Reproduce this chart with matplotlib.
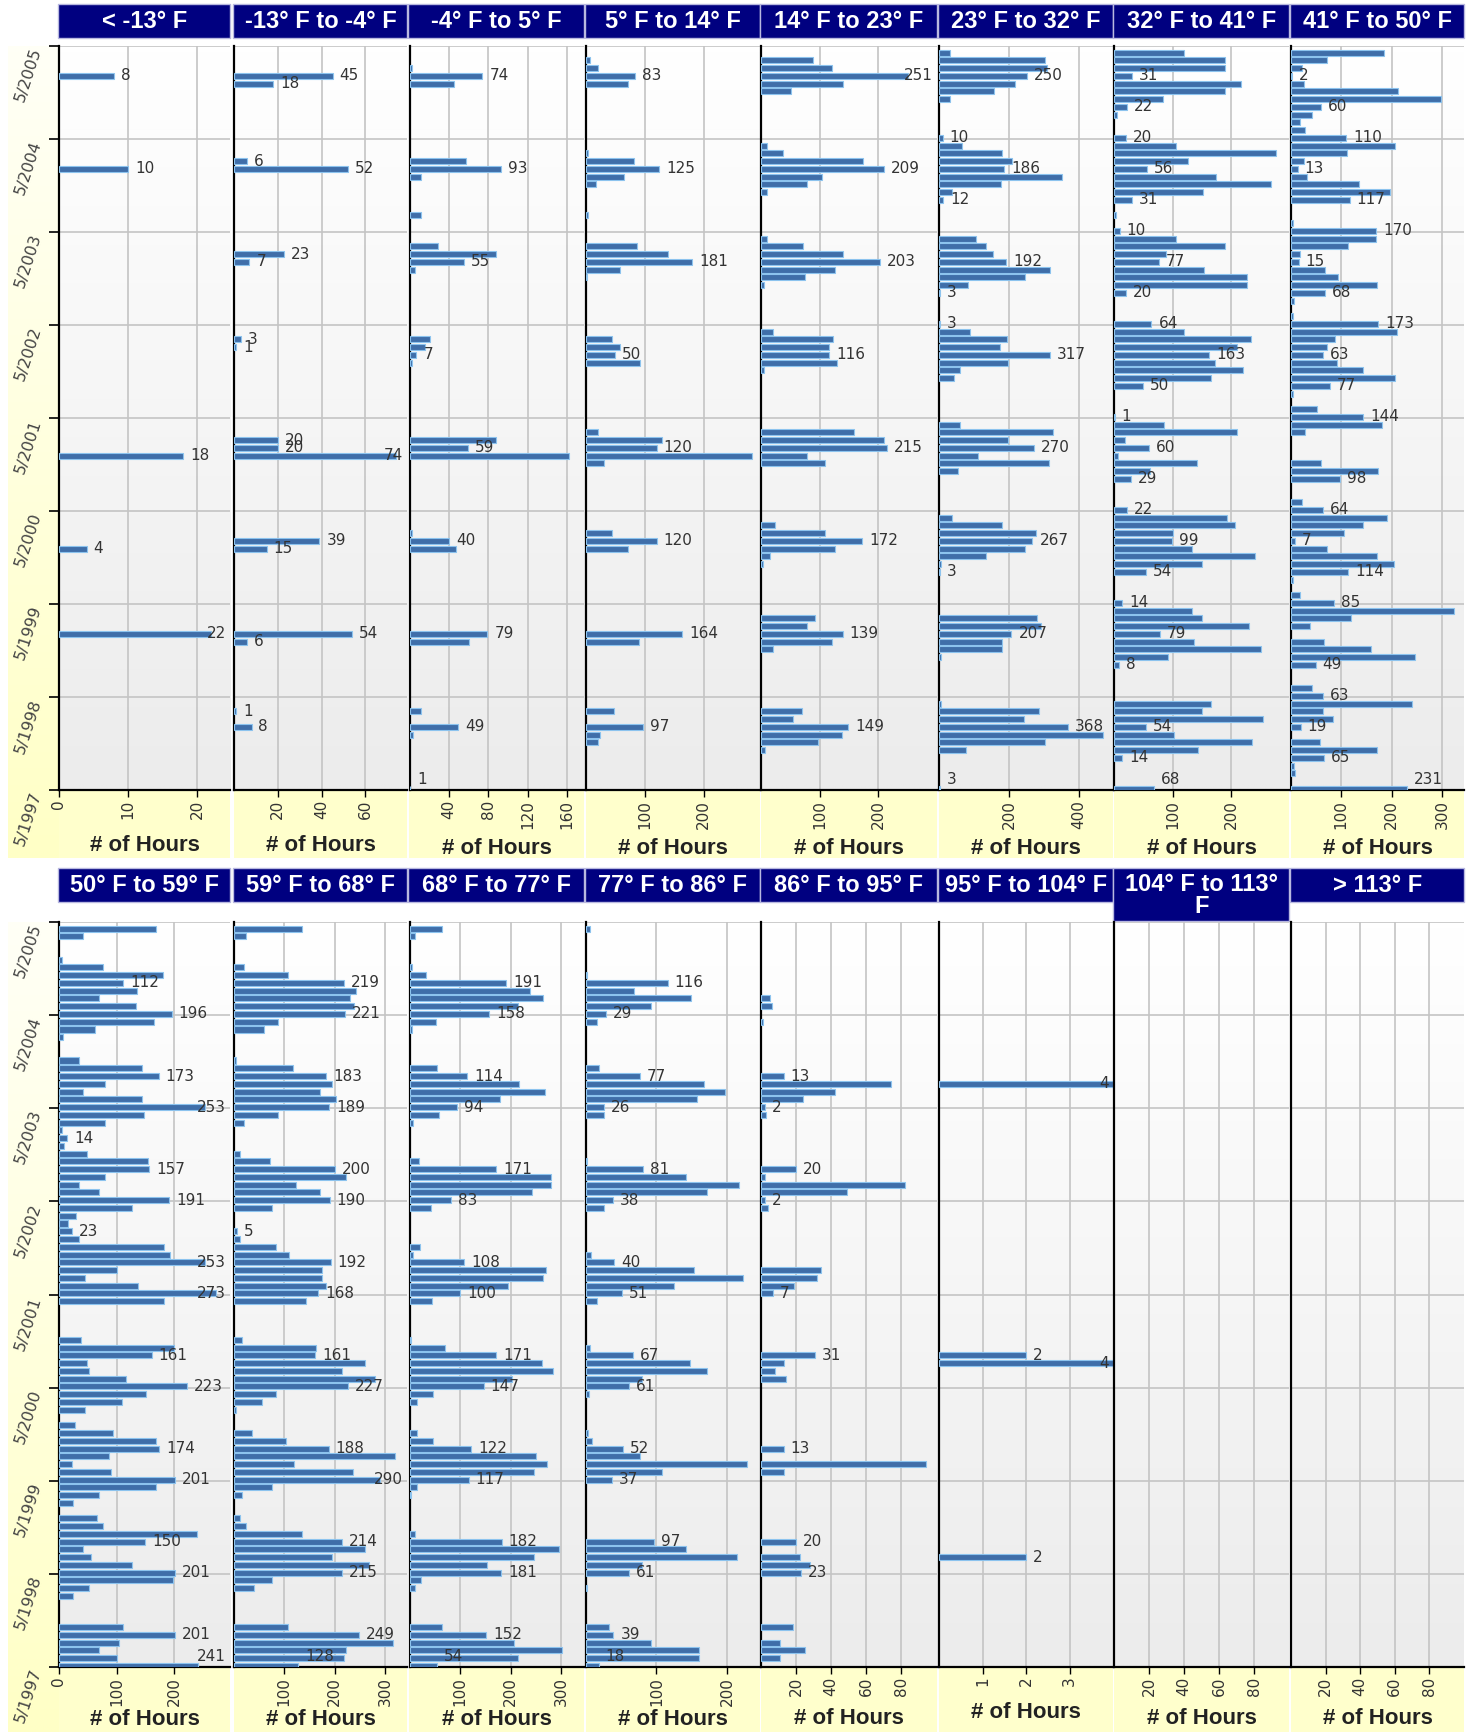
import numpy as np
import matplotlib
matplotlib.use("Agg")
import matplotlib.pyplot as plt
import matplotlib.colors as mcolors
from matplotlib.patches import Rectangle

W, H = 1474, 1732

titles = ["< -13° F", "-13° F to -4° F", "-4° F to 5° F", "5° F to 14° F",
          "14° F to 23° F", "23° F to 32° F", "32° F to 41° F", "41° F to 50° F",
          "50° F to 59° F", "59° F to 68° F", "68° F to 77° F", "77° F to 86° F",
          "86° F to 95° F", "95° F to 104° F", "104° F to 113°\nF", "> 113° F"]

year_ticks = ["5/1997", "5/1998", "5/1999", "5/2000", "5/2001",
              "5/2002", "5/2003", "5/2004", "5/2005"]

# hours per month, one line per season (May .. April), 5/1997 -> 4/2005
below_m13 = [0, 0, 0, 0, 0, 0, 0, 0, 0, 0, 0, 0,
             0, 0, 0, 0, 0, 0, 0, 0, 22, 0, 0, 0,
             0, 0, 0, 0, 0, 0, 0, 4, 0, 0, 0, 0,
             0, 0, 0, 0, 0, 0, 0, 18, 0, 0, 0, 0,
             0, 0, 0, 0, 0, 0, 0, 0, 0, 0, 0, 0,
             0, 0, 0, 0, 0, 0, 0, 0, 0, 0, 0, 0,
             0, 0, 0, 0, 0, 0, 0, 0, 10, 0, 0, 0,
             0, 0, 0, 0, 0, 0, 0, 0, 8, 0, 0, 0]
m13_to_m4 = [0, 0, 0, 0, 0, 0, 0, 0, 8, 0, 1, 0,
             0, 0, 0, 0, 0, 0, 0, 6, 54, 0, 0, 0,
             0, 0, 0, 0, 0, 0, 0, 15, 39, 0, 0, 0,
             0, 0, 0, 0, 0, 0, 0, 74, 20, 20, 0, 0,
             0, 0, 0, 0, 0, 0, 0, 0, 0, 1, 3, 0,
             0, 0, 0, 0, 0, 0, 0, 0, 7, 23, 0, 0,
             0, 0, 0, 0, 0, 0, 0, 0, 52, 6, 0, 0,
             0, 0, 0, 0, 0, 0, 0, 18, 45, 0, 0, 0]
m4_to_5 = [1, 0, 0, 0, 0, 0, 0, 4, 49, 0, 12, 0,
           0, 0, 0, 0, 0, 0, 0, 60, 79, 0, 0, 0,
           0, 0, 0, 0, 0, 0, 0, 47, 40, 3, 0, 0,
           0, 0, 0, 0, 0, 0, 0, 162, 59, 88, 0, 0,
           0, 0, 0, 0, 0, 0, 0, 3, 7, 16, 21, 0,
           0, 0, 0, 0, 0, 0, 0, 6, 55, 88, 29, 0,
           0, 0, 12, 0, 0, 0, 0, 12, 93, 57, 0, 0,
           0, 0, 0, 0, 0, 0, 0, 45, 74, 3, 0, 0]
f5_to_14 = [0, 0, 0, 0, 0, 0, 21, 23, 97, 0, 48, 0,
            0, 0, 0, 0, 0, 0, 0, 90, 164, 0, 0, 0,
            0, 0, 0, 0, 0, 0, 0, 72, 120, 45, 0, 0,
            0, 0, 0, 0, 0, 0, 31, 282, 120, 130, 20, 0,
            0, 0, 0, 0, 0, 0, 0, 92, 50, 58, 44, 0,
            0, 0, 0, 0, 0, 0, 2, 58, 181, 140, 86, 0,
            0, 0, 3, 0, 0, 0, 17, 65, 125, 82, 3, 0,
            0, 0, 0, 0, 0, 0, 0, 72, 83, 20, 6, 0]
f14_to_23 = [0, 0, 0, 0, 0, 6, 97, 138, 149, 54, 70, 0,
             0, 0, 0, 0, 0, 0, 21, 121, 139, 78, 92, 0,
             0, 0, 0, 0, 0, 3, 16, 126, 172, 109, 24, 0,
             0, 0, 0, 0, 0, 0, 109, 78, 215, 209, 158, 0,
             0, 0, 0, 0, 0, 0, 5, 130, 116, 116, 123, 21,
             0, 0, 0, 0, 0, 5, 75, 126, 203, 140, 72, 10,
             0, 0, 0, 0, 0, 10, 78, 104, 209, 174, 38, 10,
             0, 0, 0, 0, 0, 0, 51, 139, 251, 121, 89, 0]
f23_to_32 = [3, 0, 0, 0, 0, 76, 302, 468, 368, 243, 285, 5,
             0, 0, 0, 0, 0, 5, 181, 181, 207, 290, 280, 0,
             0, 0, 0, 0, 3, 5, 134, 245, 267, 278, 181, 36,
             0, 0, 0, 0, 0, 53, 313, 110, 270, 198, 326, 60,
             0, 0, 0, 0, 0, 43, 60, 198, 317, 174, 193, 88,
             3, 0, 0, 0, 3, 84, 245, 318, 192, 155, 134, 105,
             0, 0, 0, 0, 12, 36, 176, 350, 186, 209, 181, 65,
             10, 0, 0, 0, 0, 31, 157, 217, 250, 309, 302, 31]
f32_to_41 = [68, 0, 0, 0, 14, 144, 235, 103, 54, 255, 151, 165,
             0, 0, 0, 0, 8, 92, 252, 137, 79, 231, 151, 134,
             14, 0, 0, 0, 54, 151, 241, 133, 99, 101, 207, 193,
             22, 0, 0, 0, 29, 61, 141, 7, 60, 19, 210, 86,
             1, 0, 0, 0, 50, 165, 221, 173, 163, 210, 234, 120,
             64, 0, 0, 0, 20, 227, 227, 154, 77, 88, 190, 106,
             10, 0, 3, 0, 31, 152, 269, 175, 56, 127, 276, 106,
             20, 0, 0, 5, 22, 83, 190, 217, 31, 190, 190, 120]
f41_to_50 = [231, 0, 7, 5, 65, 171, 58, 0, 19, 84, 63, 240,
             63, 41, 0, 0, 49, 247, 159, 66, 0, 38, 119, 324,
             85, 18, 0, 3, 114, 204, 171, 71, 7, 106, 143, 190,
             64, 21, 0, 0, 98, 172, 59, 0, 0, 0, 28, 180,
             144, 51, 0, 3, 77, 207, 144, 91, 63, 71, 88, 210,
             173, 3, 0, 5, 68, 171, 94, 68, 15, 17, 114, 169,
             170, 3, 0, 0, 117, 197, 135, 31, 13, 26, 112, 207,
             110, 28, 18, 42, 60, 299, 212, 25, 2, 21, 71, 184]
f50_to_59 = [241, 101, 70, 105, 201, 112, 0, 0, 0, 24, 52, 198,
             201, 126, 55, 41, 150, 240, 77, 66, 0, 24, 70, 169,
             201, 91, 23, 87, 174, 169, 94, 27, 0, 45, 109, 151,
             223, 116, 52, 48, 161, 200, 38, 0, 0, 0, 0, 183,
             273, 137, 45, 101, 253, 193, 183, 35, 23, 16, 30, 126,
             191, 70, 34, 80, 157, 155, 49, 8, 14, 6, 80, 148,
             253, 144, 41, 80, 173, 144, 34, 0, 0, 7, 63, 165,
             196, 133, 70, 136, 112, 180, 77, 6, 0, 0, 42, 169]
f59_to_68 = [128, 219, 222, 317, 249, 108, 0, 0, 0, 0, 40, 76,
             215, 268, 194, 260, 214, 136, 24, 11, 0, 0, 16, 76,
             290, 236, 119, 321, 188, 103, 36, 0, 0, 3, 55, 84,
             227, 280, 215, 260, 161, 163, 16, 0, 0, 0, 0, 144,
             168, 183, 175, 175, 192, 110, 84, 11, 5, 0, 0, 76,
             190, 171, 123, 222, 200, 71, 11, 0, 0, 0, 19, 87,
             189, 203, 171, 194, 183, 117, 3, 0, 0, 0, 59, 87,
             221, 239, 231, 243, 219, 107, 20, 0, 0, 0, 24, 136]
f68_to_77 = [54, 214, 302, 206, 152, 64, 0, 0, 0, 0, 11, 22,
             181, 154, 247, 295, 182, 11, 0, 0, 0, 0, 3, 14,
             117, 247, 272, 251, 122, 47, 14, 0, 0, 0, 14, 47,
             147, 203, 284, 262, 171, 70, 3, 0, 0, 0, 0, 45,
             100, 195, 264, 269, 108, 6, 21, 0, 0, 0, 0, 42,
             83, 242, 279, 279, 171, 19, 0, 0, 0, 0, 7, 59,
             94, 179, 268, 216, 114, 55, 0, 0, 0, 0, 4, 52,
             158, 214, 264, 239, 191, 32, 5, 0, 0, 0, 11, 65]
f77_to_86 = [18, 160, 160, 92, 39, 32, 0, 0, 0, 0, 2, 0,
             61, 80, 214, 142, 97, 0, 0, 0, 0, 0, 0, 0,
             37, 108, 228, 76, 52, 8, 3, 0, 0, 0, 0, 4,
             61, 79, 172, 148, 67, 5, 0, 0, 0, 0, 0, 16,
             51, 125, 223, 153, 40, 7, 0, 0, 0, 0, 0, 25,
             38, 172, 217, 142, 81, 2, 0, 0, 0, 0, 0, 25,
             26, 158, 198, 168, 77, 19, 0, 0, 0, 0, 0, 16,
             29, 92, 149, 68, 116, 2, 0, 0, 0, 0, 0, 5]
f86_to_95 = [0, 11, 25, 11, 0, 18, 0, 0, 0, 0, 0, 0,
             23, 28, 22, 0, 20, 0, 0, 0, 0, 0, 0, 0,
             0, 13, 94, 0, 13, 0, 0, 0, 0, 0, 0, 0,
             0, 14, 8, 13, 31, 0, 0, 0, 0, 0, 0, 0,
             7, 19, 32, 34, 0, 0, 0, 0, 0, 0, 0, 4,
             2, 49, 82, 2, 20, 0, 0, 0, 0, 0, 0, 3,
             2, 24, 42, 74, 13, 0, 0, 0, 0, 0, 0, 1,
             0, 6, 5, 0, 0, 0, 0, 0, 0, 0, 0, 0]
f95_to_104 = [0, 0, 0, 0, 0, 0, 0, 0, 0, 0, 0, 0,
              0, 0, 2, 0, 0, 0, 0, 0, 0, 0, 0, 0,
              0, 0, 0, 0, 0, 0, 0, 0, 0, 0, 0, 0,
              0, 0, 0, 4, 2, 0, 0, 0, 0, 0, 0, 0,
              0, 0, 0, 0, 0, 0, 0, 0, 0, 0, 0, 0,
              0, 0, 0, 0, 0, 0, 0, 0, 0, 0, 0, 0,
              0, 0, 0, 4, 0, 0, 0, 0, 0, 0, 0, 0,
              0, 0, 0, 0, 0, 0, 0, 0, 0, 0, 0, 0]
f104_to_113 = [0] * 96
above_113 = [0] * 96

series = [below_m13, m13_to_m4, m4_to_5, f5_to_14, f14_to_23, f23_to_32,
          f32_to_41, f41_to_50, f50_to_59, f59_to_68, f68_to_77, f77_to_86,
          f86_to_95, f95_to_104, f104_to_113, above_113]

x_max = [24.8, 79, 177, 296, 300, 497, 299, 344,
         297, 344, 345, 247, 100.5, 4, 100, 100]
x_ticks = [[0, 10, 20], [20, 40, 60], [40, 80, 120, 160], [100, 200],
           [100, 200], [200, 400], [100, 200], [100, 200, 300],
           [0, 100, 200], [100, 200, 300], [100, 200, 300], [100, 200],
           [20, 40, 60, 80], [1, 2, 3], [20, 40, 60, 80], [20, 40, 60, 80]]
sparse = {0, 1, 13}   # every bar labelled; the others only every 4th month

# layout in pixels
col_left = [59, 234, 409.5, 586, 761, 939, 1114, 1291]
col_right = [230, 407, 584, 760, 937, 1113, 1289, 1464]
row_top = [46, 922]
row_bot = [790, 1667]
title_top = [4, 868]
title_bot = [38, 902]
strip_bot = [858, 1732]
# baseline of "# of Hours" below the plot, px
xlabel_drop = [61, 61, 64, 64, 64, 64, 64, 64,
               58, 58, 58, 58, 57, 51, 57, 57]

bar_face = "#3f6ea9"
bar_edge = "#8cc3ee"


def vgrad(c0, c1, n=64):
    a = np.array(mcolors.to_rgb(c0))
    b = np.array(mcolors.to_rgb(c1))
    t = np.linspace(0, 1, n)[:, None]
    return (a + (b - a) * t)[:, None, :]


fig = plt.figure(figsize=(W / 100, H / 100), dpi=100)

bg = fig.add_axes([0, 0, 1, 1])
bg.axis("off")
for row in range(2):
    bg.imshow(vgrad("#fffff6", "#ffffc6"), extent=(8, col_left[0], strip_bot[row], row_top[row]),
              aspect="auto", interpolation="bilinear", zorder=0)
    for col in range(8):
        l, r = col_left[col], col_right[col]
        bg.add_patch(Rectangle((l, row_bot[row]), r - l, strip_bot[row] - row_bot[row],
                               facecolor="#ffffcc", edgecolor="none", zorder=0))
        i = row * 8 + col
        tb = 921 if i == 14 else title_bot[row]
        bg.add_patch(Rectangle((l - 1, title_top[row]), r - l + 1, tb - title_top[row],
                               facecolor="#000080", edgecolor="#b8b8e0", lw=1, zorder=1))
        bg.text((l + r) / 2, (title_top[row] + tb) / 2 + 1, titles[i], color="white",
                fontsize=17, fontweight="bold", family="Liberation Sans",
                ha="center", va="center", linespacing=0.95, zorder=2)
bg.set_xlim(0, W)
bg.set_ylim(H, 0)

months = np.arange(96)

for i, vals in enumerate(series):
    row, col = divmod(i, 8)
    l, r = col_left[col], col_right[col]
    t, b = row_top[row], row_bot[row]
    ax = fig.add_axes([l / W, 1 - b / H, (r - l) / W, (b - t) / H])
    ax.imshow(vgrad("#ffffff", "#ececec"), extent=(0, 1, 0, 1), transform=ax.transAxes,
              aspect="auto", interpolation="bilinear", zorder=0)
    v = np.array(vals)
    nz = v > 0
    ax.barh(months[nz] + 0.15, v[nz], height=0.78, color=bar_face,
            edgecolor=bar_edge, linewidth=0.8, zorder=3)

    ax.set_xlim(0, x_max[i])
    ax.set_ylim(0, 96)
    ax.set_axisbelow(True)
    ax.grid(True, color="#c4c4c4", linewidth=1.2)

    ax.set_xticks(x_ticks[i])
    ax.set_xticklabels([str(x) for x in x_ticks[i]])
    ax.tick_params(axis="x", length=5, width=1, labelsize=11, labelcolor="#333333",
                   labelrotation=90, pad=2)
    ax.set_yticks(range(0, 97, 12))
    if col == 0:
        ax.set_yticklabels(year_ticks)
        ax.tick_params(axis="y", length=7, width=1.2, labelsize=11.5, labelcolor="#444444", pad=4)
        for lab in ax.get_yticklabels():
            lab.set_rotation(72)
            lab.set_va("top")
    else:
        ax.set_yticklabels([])
        ax.tick_params(axis="y", length=0)

    for side in ("top", "right"):
        ax.spines[side].set_visible(False)
    for side in ("left", "bottom"):
        ax.spines[side].set_linewidth(1.6)
        ax.spines[side].set_color("black")

    ax.set_xlabel("# of Hours", fontsize=16, fontweight="bold", family="Liberation Sans",
                  color="#222222", va="baseline")
    ax.xaxis.set_label_coords(0.5, -xlabel_drop[i] / (b - t))

    # value labels
    ax_w = r - l
    for m in months[nz]:
        if i not in sparse and m % 4 != 0:
            continue
        s = str(v[m])
        end = v[m] / x_max[i] * ax_w
        tw = 9.7 * len(s)
        dy = 7 if m == 0 else 0
        if end + 7 + tw > ax_w - 3:
            ax.annotate(s, (1, m + 0.15), xycoords=("axes fraction", "data"),
                        xytext=(-3, dy), textcoords="offset points", ha="right",
                        va="center", fontsize=11, color="#333333", zorder=5)
        else:
            ax.annotate(s, (v[m], m + 0.15), xytext=(5, dy), textcoords="offset points",
                        ha="left", va="center", fontsize=11, color="#333333", zorder=5)

fig.savefig("out.png", dpi=100)
